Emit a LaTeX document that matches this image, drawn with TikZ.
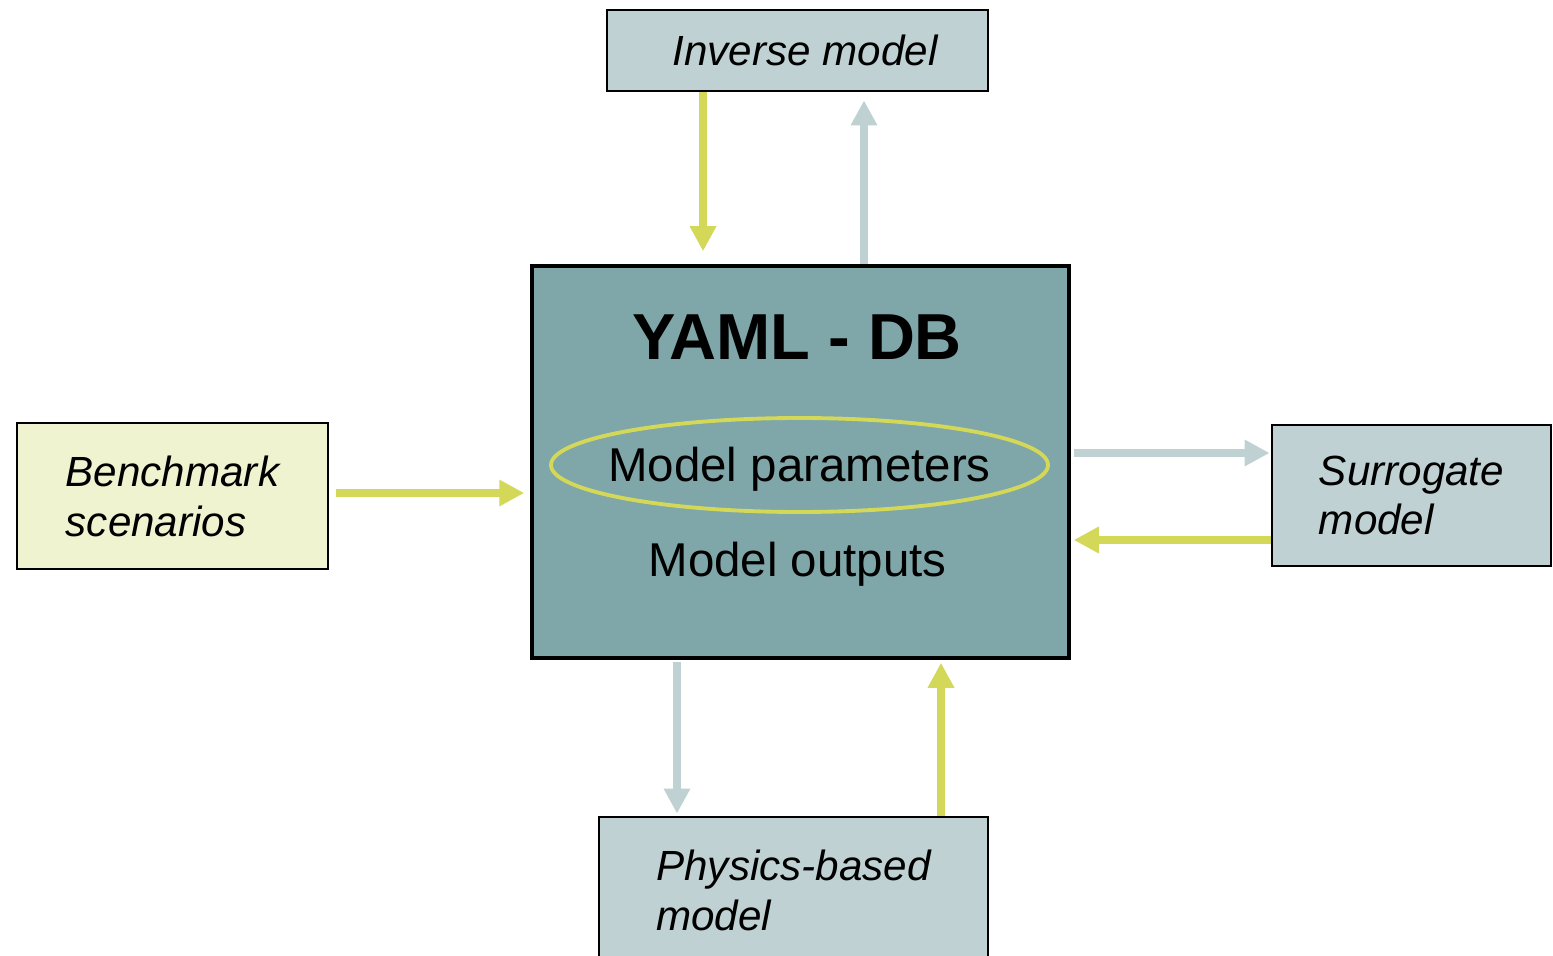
\documentclass[tikz,border=0pt]{standalone}
\usepackage{fontspec}
\setmainfont{Liberation Sans}
\usetikzlibrary{positioning,arrows.meta}
\definecolor{ymlime}{RGB}{211,216,88}
\definecolor{ymgrey}{RGB}{191,209,210}
\definecolor{ymteal}{RGB}{127,166,168}
\definecolor{ymcream}{RGB}{240,243,208}
\tikzset{
  ym/.style={font=\fontsize{12}{14.2}\selectfont\itshape, text=black},
  ymbox/.style={
    ym, draw=black, fill=#1, line width=0.8pt, align=left, inner sep=0pt
  },
  ymarr/.style={-{Triangle[length=2.5mm,width=2.5mm]}, line width=2pt, draw=ymlime},
  ymgarr/.style={ymarr, draw=ymgrey},
  ymtxt/.style={font=\fontsize{13.5}{16}\selectfont, text=black, inner sep=0pt},
}

\begin{document}
\begin{tikzpicture}
    \useasboundingbox (0,0) rectangle (15.53,-9.56);

    % Datenbank (mitte)
    \node[draw=black, fill=ymteal, line width=1pt, minimum width=5.37cm, minimum height=3.92cm] (db) at (8.005,-4.62) {};
    \node[font=\fontsize{18.5}{22}\selectfont\bfseries, inner sep=0pt] (title) at (7.97,-3.37) {YAML - DB};
    \node[ymtxt] (params) at (7.995,-4.69) {Model parameters};
    \draw[ymlime, line width=1.1pt] ([yshift=0.04cm]params.center) ellipse [x radius=2.485cm, y radius=0.47cm];
    \node[ymtxt] (outputs) at (7.975,-5.64) {Model outputs};

    % Modelle ringsum
    \node[ymbox=ymgrey, minimum width=3.81cm, minimum height=0.81cm] (inv) at (7.975,-0.505) {\hspace*{0.15cm}Inverse model};
    \node[ymbox=ymcream, minimum width=3.11cm, minimum height=1.46cm] (bench) at (1.725,-4.96) {Benchmark\\scenarios};
    \node[ymbox=ymgrey, minimum width=2.79cm, minimum height=1.41cm] (surr) at (14.115,-4.955) {Surrogate\\model};
    \node[ymbox=ymgrey, minimum width=3.89cm, minimum height=1.46cm] (phys) at (7.935,-8.9) {Physics-based\\model};

    % Verbindungen
    \draw[ymarr, shorten >=1.3mm] ([xshift=-9.45mm]inv.south) -- ([xshift=-9.45mm]inv.south |- db.north);
    \draw[ymgarr, shorten >=0.8mm] ([xshift=6.35mm]db.north) -- ([xshift=6.35mm]db.north |- inv.south);
    \draw[ymarr, shorten <=0.7mm, shorten >=0.6mm] ([yshift=0.3mm]bench.east) -- ([yshift=0.3mm]bench.east -| db.west);
    \draw[ymgarr, shorten <=0.3mm, shorten >=0.1mm] ([yshift=0.9mm]db.east) -- ([yshift=0.9mm]db.east -| surr.west);
    \draw[ymarr, shorten >=0.3mm] ([yshift=-7.8mm]db.east -| surr.west) -- ([yshift=-7.8mm]db.east);
    \draw[ymgarr, shorten <=0.2mm, shorten >=0.2mm] ([xshift=-12.35mm]db.south) -- ([xshift=-12.35mm]db.south |- phys.north);
    \draw[ymarr, shorten >=0.3mm] ([xshift=14.05mm]db.south |- phys.north) -- ([xshift=14.05mm]db.south);
\end{tikzpicture}
\end{document}
